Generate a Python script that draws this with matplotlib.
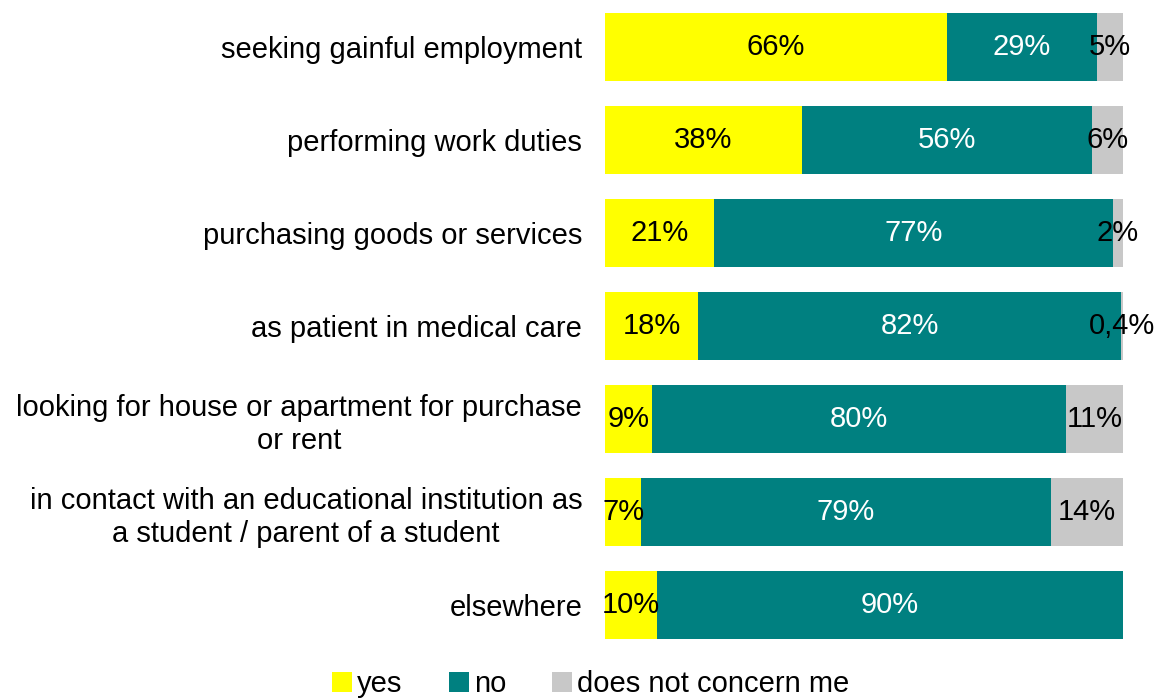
import numpy as np
import matplotlib.pyplot as plt

plt.rcParams['font.family'] = ['Liberation Sans', 'DejaVu Sans']

categories = ['seeking gainful employment',
              'performing work duties',
              'purchasing goods or services',
              'as patient in medical care',
              'looking for house or apartment for purchase\nor rent',
              'in contact with an educational institution as\na student / parent of a student',
              'elsewhere']
yes = [66, 38, 21, 18, 9, 7, 10]
no = [29, 56, 77, 82, 80, 79, 90]
na = [5, 6, 2, 0.4, 11, 14, 0]
na_labels = ['5%', '6%', '2%', '0,4%', '11%', '14%', '']

series = [('yes', yes, '#FFFF00', 'black'),
          ('no', no, '#008080', 'white'),
          ('does not concern me', na, '#C8C8C8', 'black')]

fs = 21
fig = plt.figure(figsize=(11.54, 7.0), dpi=100)
ax = fig.add_axes([0.5243, 0.0693, 0.4489, 0.93])

y = np.arange(len(categories))
# 100% stacked: each row scaled by its own total
totals = np.array(yes, float) + np.array(no, float) + np.array(na, float)
left = np.zeros(len(categories))
for name, vals, col, tcol in series:
    vals = np.array(vals, dtype=float)
    widths = vals / totals * 100
    ax.barh(y, widths, left=left, height=0.725, color=col, label=name)
    for i, v in enumerate(vals):
        if v <= 0:
            continue
        txt = na_labels[i] if name == 'does not concern me' else '%d%%' % v
        ax.text(left[i] + widths[i] / 2, y[i], txt, ha='center', va='center',
                color=tcol, fontsize=fs)
    left += widths

ax.set_xlim(0, 100)
ax.set_ylim(len(categories) - 0.5, -0.5)
ax.set_yticks(y, categories, ma='center', fontsize=fs, linespacing=1.25)
ax.tick_params(axis='y', length=0, pad=16.5)
ax.set_xticks([])
for s in ax.spines.values():
    s.set_visible(False)

fig.legend(loc='center', bbox_to_anchor=(0.512, 0.023), ncol=3,
           frameon=False, fontsize=fs, handlelength=0.69, handleheight=0.69,
           handletextpad=0.17, columnspacing=1.58)

fig.savefig('out.png', dpi=100)
